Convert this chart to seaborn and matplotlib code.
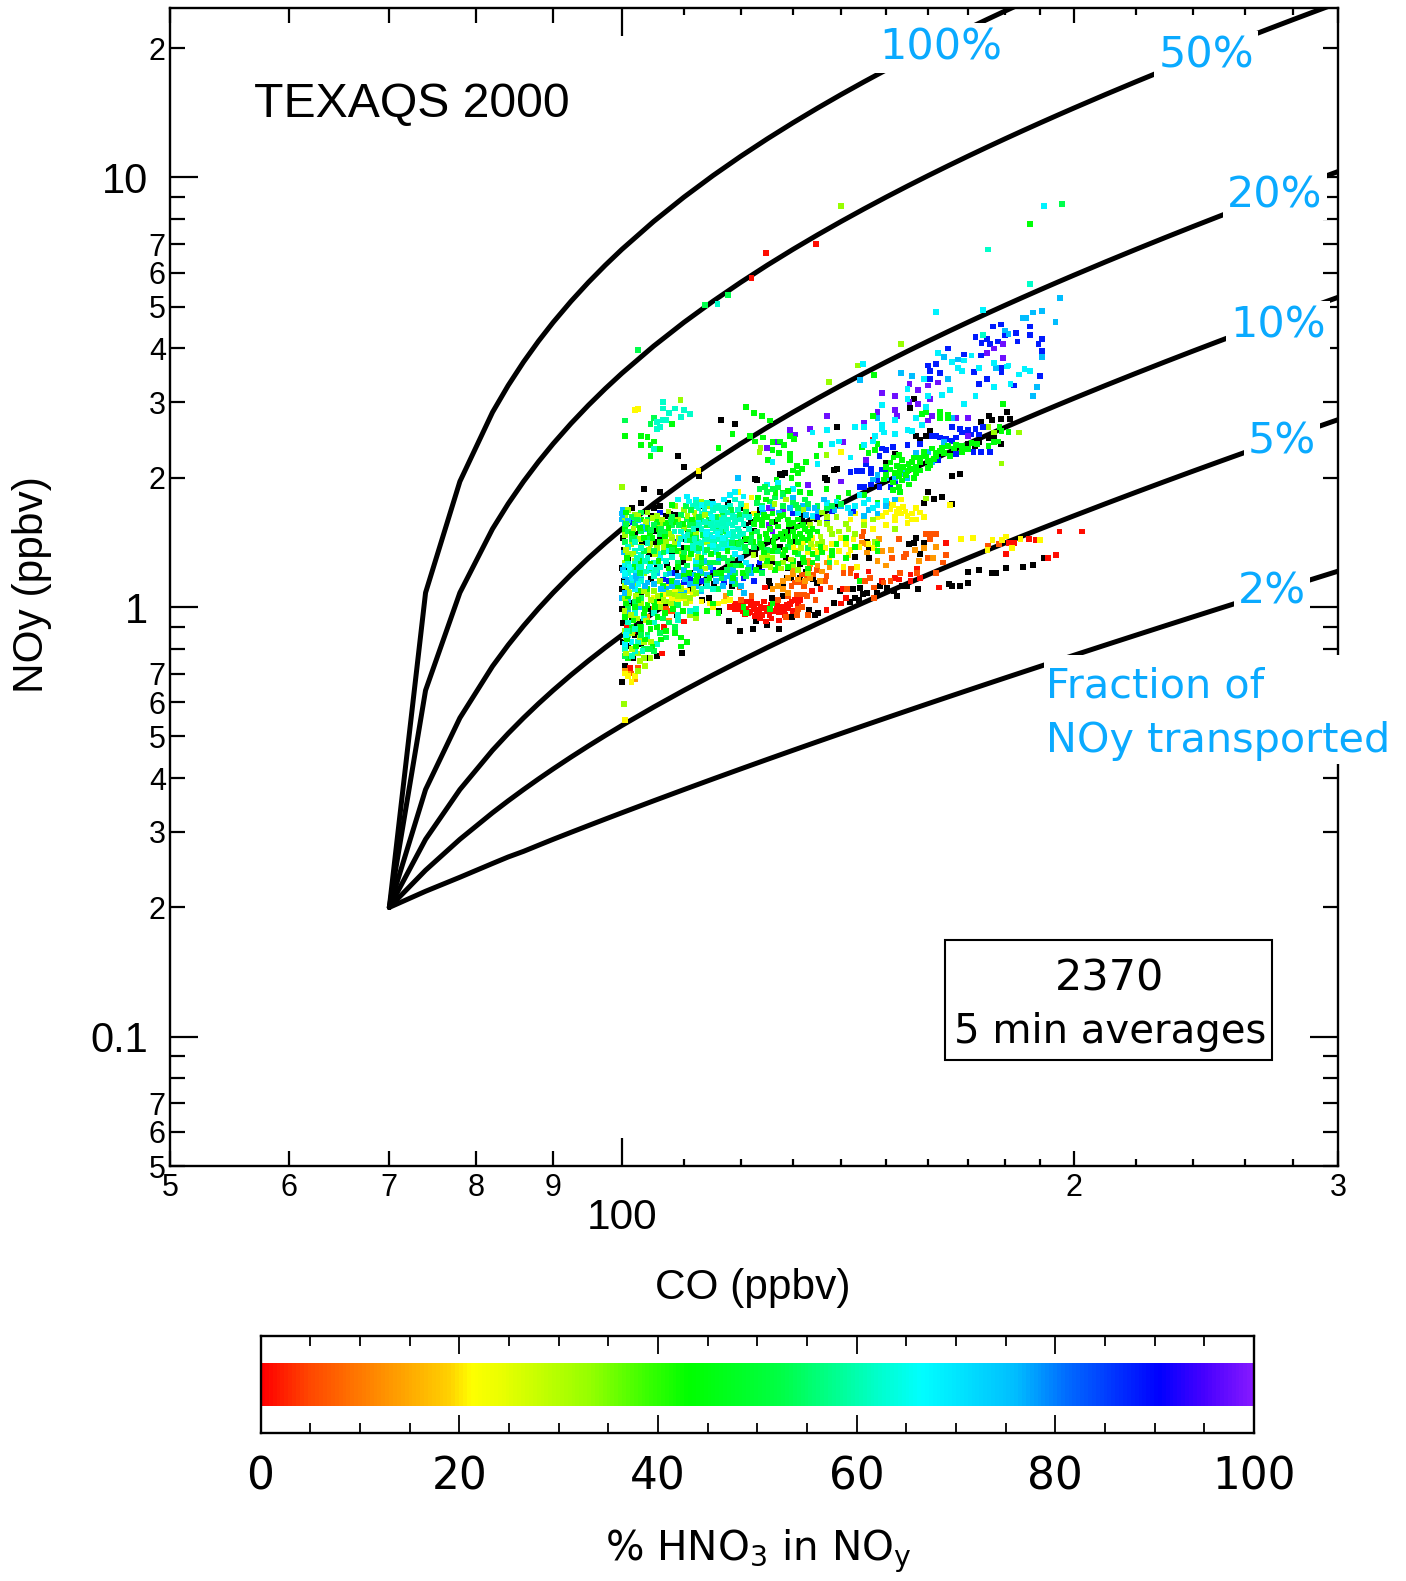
import numpy as np
import pandas as pd
import matplotlib
matplotlib.use("Agg")
import matplotlib.pyplot as plt
import seaborn as sns
from matplotlib.colors import LinearSegmentedColormap
from matplotlib.patches import Rectangle
from matplotlib.ticker import FixedLocator, FixedFormatter

# ---------- mixing curves (CO, NOy)
CURVE_CO = [70,74,78,82,84,86,88,90,92.5,95,97.5,100,105,110,115,120,125,130,135,140,145,150,155,160,165,170,175,180,185,190,195,200,210,220,230,240,250,260,270,280,290,300]
CURVE_100 = [.2,1.08,1.96,2.84,3.28,3.72,4.16,4.6,5.15,5.7,6.25,6.8,7.9,9,10.1,11.2,12.3,13.4,14.5,15.6,16.7,17.8,18.9,20,21.1,22.2,23.3,24.4,25.5,26.6,27.7,28.8,31,33.2,35.4,37.6,39.8,42,44.2,46.4,48.6,50.8]
CURVE_50 = [.2,.64,1.08,1.52,1.74,1.96,2.18,2.4,2.675,2.95,3.225,3.5,4.05,4.6,5.15,5.7,6.25,6.8,7.35,7.9,8.45,9,9.55,10.1,10.65,11.2,11.75,12.3,12.85,13.4,13.95,14.5,15.6,16.7,17.8,18.9,20,21.1,22.2,23.3,24.4,25.5]
CURVE_20 = [.2,.376,.552,.728,.816,.904,.992,1.08,1.19,1.3,1.41,1.52,1.74,1.96,2.18,2.4,2.62,2.84,3.06,3.28,3.5,3.72,3.94,4.16,4.38,4.6,4.82,5.04,5.26,5.48,5.7,5.92,6.36,6.8,7.24,7.68,8.12,8.56,9,9.44,9.88,10.32]
CURVE_10 = [.2,.288,.376,.464,.508,.552,.596,.64,.695,.75,.805,.86,.97,1.08,1.19,1.3,1.41,1.52,1.63,1.74,1.85,1.96,2.07,2.18,2.29,2.4,2.51,2.62,2.73,2.84,2.95,3.06,3.28,3.5,3.72,3.94,4.16,4.38,4.6,4.82,5.04,5.26]
CURVE_5 = [.2,.244,.288,.332,.354,.376,.398,.42,.4475,.475,.5025,.53,.585,.64,.695,.75,.805,.86,.915,.97,1.025,1.08,1.135,1.19,1.245,1.3,1.355,1.41,1.465,1.52,1.575,1.63,1.74,1.85,1.96,2.07,2.18,2.29,2.4,2.51,2.62,2.73]
CURVE_2 = [.2,.218,.235,.253,.262,.27,.279,.288,.299,.31,.321,.332,.354,.376,.398,.42,.442,.464,.486,.508,.53,.552,.574,.596,.618,.64,.662,.684,.706,.728,.75,.772,.816,.86,.904,.948,.992,1.036,1.08,1.124,1.168,1.212]

BLACK = [(116.5,2.73),(119,2.67),(109,2.25),(110,2.12),(103.5,1.88),(106,1.85),(139,2.63),(155.5,2.9),(175.5,2.78),(176.5,2.72),(179,2.74),(180.5,2.84),(181.5,2.74),(173.5,2.7),(174,2.62),(175.5,2.48),(177,2.5),(179,2.4),(170,2.4),(173,2.42),(172,2.37),(166,2.02),(168,2.04),(160.5,2.57),(157,2.5),(158,2.45),(159.5,2.5),(156.5,3.05),(139,2.1),(138.5,2.08),(136.5,2),(150,2.17),(152,2.27),(146.5,2.08),(127.5,2.04),(128.5,2.05),(122.7,1.99),(112.5,2.02),(160,1.85),(163.5,1.8),(161.5,1.78),(159,1.75),(166,1.74),
(101.5,1.7),(103,1.75),(105,1.7),(106,1.72),(107.7,1.65),(108.5,1.64),(107,1.63),(105.3,1.5),(106,1.45),(109.9,1.44),(110,1.37),(108,1.33),(100,1.23),(100.5,1.23),(100,1.1),(100,.99),(107,1.03),(106.8,.99),(108.8,.96),(109.6,.78),(104,.76),(105.5,.77),(101.8,.76),(100.5,.73),(100,.67),(100.2,.83),(119.8,.88),(117.8,.93),(122.2,.89),(127.2,.89),(125,.91),(122.8,.93),(116,.98),(114.3,1.05),(113,1.04),(111.5,1.11),(125.3,1.15),(125.5,1.12),(128,1.13),(128.8,1.17),(129.7,1.17),(129,1.23),(131.5,1.17),(126,1.05),(128,1.06),(133.2,.985),(134.5,.96),(135.2,.97),(129.8,.95),(138.5,1.02),(139.8,1.09),(142.5,1.1),(144,1.11),(143,1.05),(143.9,1.04),(142,1.03),(144.8,1.07),(145.7,1.08),(148,1.08),(148.7,1.12),(150.2,1.11),(151.7,1.09),(152.5,1.06),(153.7,1.12),(154.9,1.12),(157.5,1.1),(145.7,1.42),(146,1.37),(143,1.31),(146.2,1.3),(155.3,1.4),(156.5,1.41),(157,1.45),(159,1.41),(158,1.33),(170,1.21),(173,1.22),(176.4,1.2),(177.6,1.2),(180.2,1.23),(185,1.24),(187.9,1.25),(191,1.3),(165.3,1.13),(166,1.12),(168,1.12),(170,1.14),(135,1.6),(134,1.62),(132,1.65),(123,1.98),(127.8,2.03),(136.9,1.98),(121.5,1.64),(122.7,1.33),(121.7,1.34),(122.4,1.5),(121,1.55),(125,1.42),(104.5,1.63),(104.8,1.5),(101,1.3),(103,1.08),(104.5,1.16),(101.5,.94),(105,1.42),
(100.2,1.45),(100.4,1.36),(100.3,1.15),(100.2,.92),(102,1.48),(103.2,1.42),(104.3,1.33),(105.6,1.23),(107.2,1.25),(108.6,1.22),(109.8,1.27),(111,1.2),(112.4,1.17),(113.8,1.14),(115.2,1.13),(116.8,1.22),(118.4,1.12),(119.6,1.28),(120.8,1.43),(122,1.58),(123.4,1.24),(124.6,1.36),(126,1.27),(127.4,1.38),(128.6,1.3),(130,1.42),(131.4,1.26),(132.6,1.21),(134,1.16),(135,1.14),(110.6,1.48),(112,1.52),(113.4,1.72),(114.8,1.76),(117.6,1.75),(120.6,1.7),(123.6,1.68),(126.4,1.58),(129.2,1.52),(131.8,1.6),(133.4,1.55),(101.4,1.02),(102.8,.92),(104.2,.99),(105.8,1.05),(108,1.02),(101,.81),(103,.82),(102,.86)]
RED = [(118.9,.99),(119.5,1.01),(120.4,1.02),(121,.99),(121.7,.975),(122.5,.99),(121.4,.97),(123,.97),(124,.96),(123.7,1),(124.4,1.03),(125.6,1.01),(126.2,.98),(127.2,.975),(127.8,1),(128.8,1.01),(129.7,1.03),(130.4,1.04),(129.1,.995),(122.4,1.01),(121,1.03),(125,.98),(126.9,1.02),(122,1.04),(120.4,.98),(119.8,.99),(118,1),(124.7,.925),(127.2,.93),(136.9,.985),(140,1.02),(141,1.05),(124.6,1.11),(131.5,1.04),(162.6,1.11),(158,1.17),(155.7,1.19),(155.7,1.15),(152.1,1.17),(152.9,1.16),(157.3,1.23),(146,1.21),(140.4,1.1),(135.6,1.1),(133.9,1.09),(143.3,1.18),(149,1.15),(164.5,1.41),(180.3,1.33),(192.3,1.3),(194.7,1.32),(195.7,1.5),(202.5,1.5),(186.7,1.44),(188.6,1.43),(181,1.41),(182.4,1.41),(106.4,.78),(106.7,.9),(101.3,.72),(110,.925),
(122,5.83),(124.8,6.67),(134.7,7),(147,2.45),(120.8,.965),(122.6,.955),(123.4,.985),(124.6,.995),(125.4,.96),(126.8,.99),(128.2,.985),(129.4,1.015),(131,1.02),(120,1.0),(121.8,1.01),(123,1.02),(123.6,.94),(125.8,.94),(128.4,.96),(130,.98),(119,1.02),(101.8,.88),(100.8,.9)]
ORANGE_RED = [(131.5,1.07),(130.8,1.07),(132.2,1.07),(131.8,1.19),(132.8,1.18),(134.2,1.19),(131.5,1.14),(130.4,1.14),(132.2,1.12),(129.7,1.12),(134.9,1.22),(133.2,1.23),(132.8,1.06),(134.6,1.04),(133,.96),(130.8,.96),(128.7,.95),(131.8,1),(136.9,1.18),(136.5,1.15),(137.7,1.11),(141.2,1.1),(142.1,1.23),(142,1.2),(140.5,1.2),(144.2,1.15),(145.3,1.15),(146.4,1.17),(147.3,1.11),(147.3,1.05),(149.4,1.14),(151,1.15),(153.3,1.2),(144.9,1.5),(144.5,1.46),(153,1.44),(151.4,1.3),(154.6,1.33),(154.1,1.31),(159.9,1.3),(164.5,1.32),(163.6,1.27),(160.5,1.44),(159.5,1.48),(162,1.48),(160.9,1.48),(157.3,1.2),(162,1.2),(175.4,1.39),(178.4,1.4),(148,1.62),(110.8,1.03),(107.7,.98),(107,.99),(108,.98),(102.5,.72),(101.5,.7),(119.8,1.11),(120,1.04),(122,1.06),(127,1.04),(129,1.06),(131,.99)]
ORANGE = [(144.5,1.41),(145.7,1.4),(145.7,1.34),(151.2,1.36),(156.8,1.36),(158.9,1.37),(157.7,1.28),(161.2,1.3),(162,1.38),(148.3,1.44),(149,1.35),(150.2,1.74),(117.3,1.06),(100.5,.71),(101,.7),(102,.68),(104,.95),(105,.99),(107.5,.93),(133,1.28),(130,1.22),(129,1.17),(127,1.12),(126,1.1),(128,1.1),(129,1.08),(133.5,1.26),(135,1.25),(136,1.21),(137.5,1.24),(148,1.28),(150,1.25),(131,1.16),(132.5,1.15),(130,1.19),(128,1.15),(133.5,1.17),(135.5,1.15),(137,1.27)]
YELLOW = [(168.3,1.44),(171.4,1.45),(175.2,1.36),(176.6,1.43),(179.1,1.43),(180.3,1.46),(182,1.37),(184.3,1.44),(190,1.43),(147.3,1.37),(141.6,1.32),(143.5,1.24),(140.5,1.24),(142.7,1.44),(100.5,.7),(101,.69),(101.5,.67),(102,.69),(100.5,.545),(113,1.03),(114.5,1.02),(116,1.02),(117,1.03),(115,1),(118,1.04),(128,1.33),(130,1.38),(131,1.35),(133,1.34),(135,1.35),(132,1.42),(134,1.45),(136,1.42),(137.5,1.3),(139,1.27),(140,1.45),(141,1.4),(142,1.36),(144,1.38),(146,1.4),(122,1.8),(119.5,1.85),(121,1.72),(122.5,1.65),(143,1.65),(112.5,2.07),(151.5,1.73),(153,1.69),(153.5,1.65),(154.5,1.67),(156,1.6),(157,1.6),(151,1.69),(150,1.66),(149,1.63),(156,1.65),(159,1.62),(153.5,1.78),(157,1.7),(140,2.3),(165.5,1.73),(148,1.62),(145,1.58),(142,1.6),(147,1.52),(150,1.55),(152,1.59),(155,1.57),(107,1.07),(108,1.05),(109,1.03),(110,1.05),(111,1.03),(106.5,1.09),(108.5,1.1),(110.5,1.09),(102,2.87),(102.5,2.89),
(135,1.32),(136.5,1.37),(138,1.4),(139.5,1.35),(134,1.38),(152,1.62),(154,1.71),(155,1.63),(158,1.66),(152.5,1.67),(105,1.05),(106,1.02),(107.5,1.12),(109.5,1.12),(111.5,1.07)]
LIME = [(101,1.68),(100.5,1.62),(102,1.64),(104,1.66),(105.5,1.63),(106,1.56),(100.5,1.47),(101.5,1.4),(103,1.38),(104.5,1.4),(105.5,1.37),(107,1.42),(108,1.45),(110,1.53),(112,1.48),(114,1.42),(101,1.33),(102,1.28),(100.5,1.27),(103.5,1.2),(106,1.15),(107.5,1.08),(108.5,1.07),(110,1.06),(111,1.05),(112,1.08),(109.5,1.1),(104,1.07),(105,1.09),(102,1.12),(100.5,1.05),(101,1.1),(103,1.02),(106,1),(107,1.03),(100.5,.88),(102.5,.78),(103.5,.76),(104.5,.76),(101.5,.83),(102.5,.71),(100.3,.595),(111,.96),(112,.94),(126,1.3),(128,1.27),(130,1.25),(124.5,1.25),(131,1.22),(125,1.32),(133,1.2),(136,1.42),(138,1.48),(137,1.56),(139,1.62),(141,1.56),(135,1.4),(143,1.48),(134,1.62),(136,1.66),(132,1.68),(145,1.55),(147,1.6),(112,1.62),(110,1.68),(108.5,1.72),(113,1.76),(114,1.72),(116,1.62),(140,8.58),(153.5,4.09),(143.6,3.65),(137.4,3.34),(109.4,3.03),(123.7,2.35),(123.5,2.3),(136.9,2.26),(175.5,2.62),(177,2.55),(184,2.55),(179,2.16),(100,1.9),(147.5,1.42),(152,1.52),(159.5,1.79)]
GREEN = [(100.5,1.52),(102,1.56),(103,1.6),(104,1.53),(105.5,1.58),(107,1.57),(106,1.42),(107.5,1.38),(109,1.35),(110.5,1.37),(112,1.38),(111,1.47),(123,1.63),(124,1.6),(125,1.62),(126,1.65),(127,1.6),(128,1.64),(129,1.6),(130,1.57),(131,1.6),(132,1.55),(124,1.55),(125.5,1.52),(127,1.54),(128.5,1.5),(130,1.5),(131.5,1.48),(133,1.5),(122.5,1.56),(122,1.48),(123.5,1.46),(125,1.44),(126.5,1.46),(128,1.44),(129.5,1.42),(131,1.42),(133,1.43),(124,1.38),(126,1.35),(128,1.32),(130,1.28),(132,1.3),(127,1.26),(125,1.28),(129,1.24),(126.5,1.22),(133,1.23),(134,1.27),(136,1.34),(138,1.35),(120,1.25),(118,1.25),(115.5,1.2),(113,1.24),(112,1.15),(110,1.18),(109,1.12),(108,1.15),(106.5,1.12),(104,1.1),(102.5,1.09),(101,1.06),(104,1.01),(105,1.03),(106,1.06),(102,1),(103.5,.96),(100.5,.95),(101.5,.9),(103,.88),(104.5,.89),(105.5,.9),(107,.88),(108.5,.87),(109.5,.85),(109.5,.81),(110.5,.83),(112,.97),(114,.98),(116,.97),(115,1.02),(125.5,.99),(126,1.02),(120.5,1),(121,.97),(138,1.32),(141,1.3),(139,1.4),(143,1.38),(141,1.45),(148,1.4),(148,1.35),(144,1.15),(101,.76),
(187,7.8),(147.2,3.47),(179.5,2.97),(178.5,2.62),(179,2.57),(177,2.42),(178,2.43),(175.5,2.37),(181,2.56),(121,2.92),(122.5,2.83),(124,2.78),(125.5,2.72),(118.5,2.53),(121.7,2.5),(122.7,2.43),(124.2,2.48),(126,2.42),(127.5,2.43),(129.4,2.5),(130.2,2.46),(128.3,2.38),(126,2.32),(127.3,2.28),(129.4,2.27),(125.2,2.2),(129.4,2.2),(132.7,2.18),(135.6,2.38),(134.8,2.25),(144.5,2.36),(146,2.28),(147.5,2.32),(148,2.4),(147,2.78),(163,2.85),(165,2.8),(158.5,2.82),(159.5,2.85),(163,2.75),(165,2.75),(108,2.67),(105,2.43),(103,2.5),(104,2.49),(103,2.38),(104.5,2.38),(106,2.33),(104.5,2.25),(116,2.35),(100.5,2.5),(108,1.73),(126.8,1.98),(129.7,2),(131,2.05),(130,2.08),(131.8,2.1),(130.8,2.13),(131,1.93),(128.1,1.84),(131.5,1.85),(133.5,1.84),(136.9,1.88),(139.4,1.8),(141.6,1.84),(145,1.82),(148,1.75),
(150,2.12),(151.7,2.23),(153.7,2.2),(155.2,2.15),(157,2.12),(159,2.3),(161,2.34),(163,2.31),(165,2.37),(167,2.38),(168.5,2.37),(170,2.33),(160,2.11),(158,2.08),(160.5,2.14),(165.5,2.25),(156.5,2.23),(152.5,2.13),(153.3,2.08),(155,2.07),(151,2.09),(150,2.03),(153.7,1.97),(155.3,1.93),(153,1.9),(151.5,1.87),(153.3,1.85),(162,2.24),(158,2.22)]
SPRING = [(108,1.62),(109.5,1.64),(110.5,1.6),(111,1.55),(112,1.57),(113,1.6),(114,1.55),(115.5,1.54),(117,1.54),(108,1.55),(107,1.5),(106,1.48),(104,1.45),(103,1.5),(102,1.55),(105,1.55),(104,1.6),(101.5,1.62),(103,1.66),(102,1.45),(100.5,1.42),(101,1.5),(120,1.42),(122,1.45),(123,1.5),(123.5,1.42),(122.5,1.38),(121,1.35),(120,1.3),(118.5,1.3),(117,1.3),(116,1.27),(114,1.27),(112,1.26),(110.5,1.25),(109,1.27),(117.5,1.22),(119,1.2),(121,1.18),(124,1.2),(123,1.75),(124,1.72),(125.5,1.76),(126.5,1.8),(125,1.85),(123.5,1.88),(127,1.9),(128,1.83),(130,1.75),(131,1.7),(133,1.74),(135,1.72),(137,1.7),(125,1.36),(127,1.35),(129,1.38),(131,1.33),(133,1.37),(135,1.3),(137.5,1.27),(116.5,1.17),(114,1.15),(113,1.2),(116,1.1),(119,1.13),(118,1.08),(108,1.02),(109,1.01),(106.5,.94),(107.5,.92),(108.5,.9),(103,.9),(104,.86),(106,.87),(107,.85),(103.5,.8),(105,.79),(101,1),(102,1.03),(103,1.05),(100.5,.77),(113.6,5.05),(117.7,5.33),(102.5,3.97),(196.5,8.68),(100.5,2.72),(105,2.75),(104.5,2.67)]
TEAL = [(111.5,1.72),(112.5,1.7),(113.5,1.69),(113,1.65),(114.5,1.65),(115,1.68),(116,1.72),(117,1.7),(118,1.72),(119,1.78),(120,1.74),(119.5,1.68),(118.5,1.64),(117,1.62),(116,1.6),(115,1.58),(117.5,1.57),(118.5,1.55),(119.5,1.6),(120.5,1.64),(121.5,1.62),(120.5,1.56),(119.5,1.52),(118.5,1.5),(117.5,1.47),(116.5,1.52),(115.5,1.5),(114.5,1.47),(113.5,1.44),(112.5,1.42),(111.5,1.4),(110.5,1.43),(109.5,1.5),(113,1.52),(116.5,1.42),(117.5,1.42),(118.5,1.44),(119.5,1.46),(120.5,1.48),(121.5,1.52),(114.5,1.38),(113.5,1.34),(112.5,1.33),(111.5,1.36),(115.5,1.34),(116.5,1.37),(118,1.38),(119,1.38),(120,1.37),(106,1.33),(107,1.28),(108,1.31),(105,1.27),(104,1.3),(103,1.32),(102,1.35),(101,1.38),(102,1.26),(103,1.24),(104.5,1.22),(106,1.24),(101,1.2),(100.5,1.14),(101.5,1.13),(103,1.15),(105,1.18),(107,1.19),(102,.97),(103.5,.94),(101,.92),(105,.92),(101,.86),(102.5,.83),(104,.85),(105.5,.82),(100.5,.8),(102,.79),(109,.96),(111,.98),(109,.93),(105,.97),(112,.99),(113,1.1),(114,1.12),(115,1.1),(115.8,5.08),(175.4,6.8),(187,5.65),(174,4.3),
(106.5,3),(106.5,2.9),(108.5,2.9),(110,2.87),(111,2.82),(109.5,2.77),(107.5,2.83),(106.5,2.73),(105.5,2.7),(107,2.73),(105.5,2.6),(106,2.62),(105,2.33)]
CYAN = [(100.5,1.25),(101.5,1.17),(103,1.19),(102,1.22),(100.5,1.19),(102,1.1),(106,1.3),(107,1.35),(109,1.4),(110,1.46),(112,1.28),(113,1.37),(115,1.45),(116,1.47),(117,1.37),(118,1.4),(115,1.74),(117,1.78),(118,1.82),(112,1.78),(110.5,1.81),(119,1.85),(120.5,1.81),(119,1.33),(121,1.27),(101.5,.83),(100.5,.82),(124,1.7),(125,1.93),(127,1.95),(130,1.88),(131,1.65),(134,1.63),(137,1.75),(139,1.76),(141.5,1.7),(143,1.72),(145,1.75),(147,1.7),(144,1.82),(146,1.78),(150,1.77),(148,1.73),(112.5,1.6),(114,1.5),
(191,8.58),(162,4.86),(174,4.92),(144.8,3.68),(169,3.75),(171,3.85),(173,3.6),(177,3.7),(181,3.65),(180.5,3.63),(184,3.48),(185.5,3.58),(187,3.55),(177,3.25),(181.5,3.3),(172,3.1),(165.5,3.2),(163.5,3.12),(169,2.97),(167.5,3.6),(166,3.72),(162.5,3.9),(168.5,3.55),(159,3.4),(155,3.22),(155,3.05),(160,3.1),(159.5,2.92),(157,2.75),(158.5,2.65),(152,2.73),(149,2.95),(149,2.65),(149,2.6),(149.5,2.55),(152,2.53),(155,2.58),(156,2.57),(147.5,2.5),(147,2.43),(145,2.38),(143,2.63),(145,2.63),(134,2.55),(137,2.58),(138,2.4),(142,2.23),(135,2.15),(126,2.18),(139.5,2.43)]
AZURE = [(100,1.6),(100,1.65),(100.5,1.55),(102,1.58),(104,1.56),(103.5,1.52),(100.3,1.34),(100.5,1.18),(101,1.16),(102,1.15),(103,1.17),(104,1.14),(100,1.05),(101,1.04),(102.5,1.02),(105.5,1.2),(107,1.1),(108,1.12),(109,1.07),(110,1.08),(111,1.13),(112,1.12),(113,1.09),(114.5,1.24),(115.5,1.19),(117,1.17),(118,1.18),(119,1.16),(120,1.12),(121.5,1.24),(112,1.23),(110,1.22),(109,1.18),(128,1.81),(130,1.8),(132,1.72),(140,1.72),(142,1.65),(145,1.63),(146,1.68),(135,1.67),(137,1.62),(133,1.7),(126,1.72),(148,1.65),(150,1.72),(152,1.78),(147,1.98),(148,2.03),(150,2),(152,2),(154,2.05),(155,2),(157,2.28),(159,2.25),(160,2.3),(161,2.17),(164,2.42),(101,.98),(103,1),(119.5,2),
(195.9,5.25),(190.6,4.89),(194.5,4.6),(144.1,3.38),(148,2.75),(166,2.75),(186,4.7),(188,4.85),(185,4.7),(180,4.4),(164,3.82),(190.6,3.82),(181,4.32),(177.5,3.6),(153.5,3.5),(156,3.45),(165,3.4),(188,3.1),(189,3.25),(167.5,3.77)]
BLUE = [(106,1.66),(101.5,1.58),(108,1.2),(107.5,1.15),(106.5,1.16),(110,1.14),(111,1.17),(113,1.15),(115,1.22),(117,1.14),(119,1.2),(122,1.24),(124,1.21),(122.5,1.15),(123.5,1.27),(130,1.65),(135,1.62),(100.5,1.06),(101,.98),(109,1.42),(120.5,1.17),
(172,4.25),(176.8,4.5),(178.8,4.55),(175,4.2),(176,4.1),(178,4.15),(173.6,4.12),(180,4.3),(183,4.35),(183.5,4.15),(187,4.3),(187,4.5),(189.5,4.1),(190.6,4.2),(190.6,3.95),(179,3.6),(179,3.52),(171.6,3.52),(173,3.3),(175,3.4),(182.5,3.28),(190,3.45),(165,4),(167.5,3.77),(169,3.87),(173.5,3.85),(160,3.65),(162,3.68),(163,3.5),(160.5,3.55),(160.5,3.4),
(162,2.5),(163,2.48),(164.5,2.46),(167,2.48),(168.5,2.55),(170,2.58),(172,2.6),(174,2.63),(166,2.62),(168,2.6),(164,2.44),(166,2.44),(171,2.52),(173,2.52),(171.5,2.3),(173.5,2.3),(176,2.3),(167,2.27),(162.5,2.2),(161,2.5),(158,2.4),(155,2.38),(151.5,2.36),(149,2.34),(150,2.32),(148.5,2.25),(145.5,2.15),(146.5,2.1),(142,2.06),(143.5,2.07),(149,2.09),(146.5,2.05),(150,2.08),(144.5,2.07),(144,1.9),(145,1.9),(146.5,1.93),(148.5,1.9),(151,1.9),(148,1.97),(152,1.95),(138,1.67),(142.5,1.67),(135,1.62),(137,1.6)]
VIOLET = [(125.3,1.7),(126,1.7),(128,1.67),(125.3,1.55),(126,1.5),(175,3.9),(179.5,4.1),(177,4),(179.5,3.8),(162.5,3.33),(160,3.28),(157.5,3.2),(152,3.1),(155.5,3.3),(149,3.15),(155.5,3),(157.5,2.97),(148,2.85),(152,2.88),(152.5,2.78),(160.5,3.05),(137,2.78),(145,2.68),(129.5,2.58),(130.5,2.52),(133.5,2.6),(127,2.42),(125,2.35),(140.5,2.42),(160,2.72),(161,2.78),(170,2.76),(167,2.75),(133,1.92),(140,1.96),(145.5,2.2),(170,2.5)]

# second reading of the crowded core, drawn over the first
CORE_AZURE = [(100.1,1.68),(100.1,1.64),(101,1.59),(102.6,1.59),(103.2,1.54),(100.2,1.22),(100.8,1.14),(101.6,1.12),(100.4,1.08),(102.2,1.18),(103.6,1.12),(105,1.13),(106.2,1.1),(107.6,1.2),(108.8,1.14),(110.2,1.16),(111.6,1.19),(112.8,1.21),(114,1.19),(115.6,1.15),(116.8,1.12),(118.4,1.15),(113.4,1.28),(116,1.3),(118.6,1.22),(120.6,1.08),(122,1.2),(120,1.3),(124.2,1.66),(127.2,1.66),(129.4,1.7),(132.6,1.64),(134.4,1.7),(136.4,1.78),(138.6,1.68)]
CORE_LIME = [(100.8,1.58),(101.8,1.52),(102.6,1.63),(103.8,1.58),(104.8,1.61),(106.4,1.6),(107.4,1.67),(109,1.6),(110.6,1.63),(111.8,1.66),(113.6,1.64),(107.8,1.48),(109.2,1.45),(100.6,1.36),(101.8,1.33),(102.8,1.44),(104.2,1.36),(105.2,1.33),(106.6,1.38),(108.4,1.4),(109.6,1.33),(110.8,1.3),(112.4,1.31),(113.6,1.23),(100.4,1.12),(101.2,1.08),(102.2,1.06),(103.4,1.09),(104.6,1.04),(105.6,1.06),(106.6,1.04),(107.8,1.02),(109,1.06),(110.4,1.02),(111.6,1.1),(100.4,.98),(101.4,.96),(102.4,.94),(103.8,.93),(100.6,.85),(101.6,.87),(102.8,.85),(103.4,.83),(104.6,.83),(100.6,.78),(101.6,.8),(102.8,.75),(103.6,.73),(122.4,1.32),(124,1.3),(125.6,1.24),(127.6,1.23),(129.6,1.29),(131.6,1.37),(133.6,1.4),(135.6,1.46),(137.6,1.52),(139.6,1.5),(141.6,1.52),(133.4,1.55),(135.4,1.57),(137,1.62),(126.4,1.74),(128.6,1.78)]
CORE_GREEN = [(100.6,1.66),(101.6,1.48),(102.8,1.53),(104.4,1.49),(105.8,1.52),(107.4,1.53),(108.6,1.58),(109.8,1.56),(111.4,1.6),(103.4,1.45),(104.8,1.45),(106.8,1.46),(108.4,1.37),(109.8,1.31),(111.2,1.33),(113,1.3),(114.6,1.33),(116,1.32),(117.6,1.35),(119.2,1.41),(100.8,1.3),(101.8,1.24),(103,1.28),(104.4,1.26),(105.8,1.28),(107.4,1.23),(109,1.24),(110.8,1.2),(112.2,1.18),(114.4,1.17),(116.4,1.2),(118.6,1.17),(120.4,1.2),(122.8,1.22),(100.6,1.02),(102.6,1.04),(103.6,.99),(105.2,1.0),(106.8,.97),(108.2,.99),(109.8,.98),(101.8,.93),(102.8,.9),(104.2,.92),(105.6,.95),(100.8,.84),(102.2,.81),(103.6,.84),(104.8,.81),(106.2,.84),(121,1.44),(122.4,1.42),(123.8,1.4),(124.8,1.48),(126.2,1.42),(127.6,1.48),(129,1.46),(130.4,1.46),(131.8,1.45),(133.4,1.47),(135,1.5),(122.8,1.6),(124.4,1.64),(125.8,1.58),(127.4,1.63),(129.2,1.56),(130.8,1.54),(132.4,1.52),(134,1.52),(124.4,1.34),(126.4,1.38),(128.4,1.36),(130.4,1.34),(132.2,1.27),(134,1.33),(135.6,1.38),(123.2,1.8),(124.8,1.78),(126.6,1.84),(129,1.86),
(156,2.18),(158,2.17),(160,2.19),(162,2.29),(164,2.28),(166.4,2.34),(168.5,2.3),(154,2.12),(155.6,2.1),(157,2.05),(152,2.05),(154.6,2.03),(153,2.02),(151.5,1.95),(149.5,1.98),(156.5,2),(151,2.17),(153,2.26),(159.5,2.24),(161.5,2.21),(163.5,2.35),(171,2.41),(172.5,2.4)]
CORE_SPRING = [(110.4,1.72),(111.2,1.68),(112.6,1.62),(114.2,1.6),(115.6,1.62),(116.8,1.66),(118.2,1.68),(119.8,1.64),(121,1.67),(114,1.36),(115.2,1.41),(116.2,1.46),(117.2,1.5),(118.4,1.41),(119.6,1.4),(120.8,1.38),(121.8,1.42),(112,1.45),(113.2,1.47),(111,1.43),(112.6,1.37),(110,1.34),(108,1.36),(106.6,1.34),(105,1.35),(103.4,1.35),(101.6,1.44),(100.6,1.56),(102.4,1.6),(104.6,1.51),(106.2,1.52),(107.8,1.6),(109.2,1.55),(110.8,1.5),(112,1.55),(117.6,1.28),(119.2,1.25),(121.4,1.22),(115,1.27),(113,1.27),(104.2,1.23),(102.8,1.2),(101.2,.88),(103,.86),(104.4,.8),(124.6,1.9),(126,1.88),(128,1.72),(130.6,1.73),(132.4,1.78),(138,1.72),(140,1.74)]
CORE_TEAL = [(112,1.75),(114,1.75),(115.6,1.7),(116.6,1.68),(117.6,1.66),(118.8,1.62),(120,1.6),(119,1.58),(117.8,1.6),(116.8,1.57),(115.8,1.55),(114.6,1.56),(113.6,1.58),(112.6,1.55),(111.6,1.52),(115,1.53),(116.2,1.5),(117.4,1.52),(118.6,1.48),(119.8,1.5),(114,1.44),(115,1.42),(116,1.44),(117.2,1.44),(118.4,1.47),(113,1.41),(111.8,1.44),(110.6,1.47),(109.4,1.44),(108.4,1.5),(115.6,1.38),(117,1.4),(102,1.42),(103,1.37),(104,1.41),(101,1.26),(102.4,1.3),(103.6,1.28),(101.4,1.22),(103.8,1.21),(105.4,1.22),(102,.89),(100.8,.88),(103.2,.79),(101.6,.77)]
CORE_CYAN = [(100.4,1.2),(101.2,1.24),(102.6,1.13),(104.4,1.24),(115.8,1.48),(116.8,1.45),(117.8,1.48),(115,1.39),(113.8,1.48),(114.8,1.62),(113,1.73),(110.8,1.76),(109,1.78),(100.6,.86)]

BANDS = [(RED, 1), (ORANGE_RED, 6), (ORANGE, 13), (YELLOW, 21), (BLUE, 88), (VIOLET, 98), (AZURE, 76),
         (LIME, 33), (GREEN, 44), (SPRING, 53), (TEAL, 62), (CYAN, 68),
         (CORE_LIME, 31), (CORE_AZURE, 76), (CORE_GREEN, 43), (CORE_SPRING, 52), (CORE_TEAL, 61), (CORE_CYAN, 66)]

# ---------- colour scale nodes
SCALE_PCT = [0, 4.6, 9.6, 18.9, 21, 24, 33, 38, 43, 52.4, 61.8, 66.5, 76, 81, 90.5, 95, 100]
SCALE_RGB = ["#ff0000", "#ff4600", "#ff7800", "#ffd200", "#ffff00", "#ebff00", "#96ff00", "#46ff00", "#00ff00",
             "#00ff46", "#00ffc8", "#00ffff", "#00beff", "#006eff", "#0000ff", "#4600ff", "#8719ff"]
SCALE_MAJOR = [0, 20, 40, 60, 80, 100]
SCALE_MINOR = [5, 10, 15, 25, 30, 35, 45, 50, 55, 65, 70, 75, 85, 90, 95]

CURVE_LABELS = [("100%", 941, 48), ("50%", 1206, 56), ("20%", 1275, 195),
                ("10%", 1278, 326), ("5%", 1282, 442), ("2%", 1272, 591)]

X_MINOR = [50, 60, 70, 80, 90, 110, 120, 130, 140, 150, 160, 170, 180, 190, 200, 220, 240, 260, 280, 300]
X_MINOR_LABELS = ["5", "6", "7", "8", "9", "", "", "", "", "", "", "", "", "", "2", "", "", "", "", "3"]
X_SHORT = [110, 120, 130, 140, 150, 160, 170, 180, 190, 220, 240, 260, 280]
Y_MAJOR = [0.1, 1, 10]
Y_MINOR = [.05, .06, .07, .08, .09, .2, .3, .4, .5, .6, .7, .8, .9, 2, 3, 4, 5, 6, 7, 8, 9, 20]
Y_MINOR_LABELS = ["5", "6", "7", "", "", "2", "3", "4", "5", "6", "7", "", "", "2", "3", "4", "5", "6", "7", "", "", "2"]

W, H = 1406, 1581
sns.set_theme(style="white")
ARIAL = ["Liberation Sans", "DejaVu Sans"]
VERDANA = ["DejaVu Sans"]
plt.rcParams["font.family"] = ARIAL
plt.rcParams["mathtext.fontset"] = "dejavusans"
BLUE_TXT = "#0aaaff"

def fx(x): return x / W
def fy(y): return 1 - y / H
def axes_rect(l, t, r, b): return [fx(l), fy(b), (r - l) / W, (b - t) / H]

fig = plt.figure(figsize=(W / 100, H / 100), dpi=100, facecolor="white")
ax = fig.add_axes(axes_rect(170, 8, 1338, 1166))
ax.set_xscale("log"); ax.set_yscale("log")
ax.set_xlim(50, 300); ax.set_ylim(0.05, 24.8)

for vals in (CURVE_100, CURVE_50, CURVE_20, CURVE_10, CURVE_5, CURVE_2):
    sns.lineplot(x=CURVE_CO, y=vals, ax=ax, color="black", lw=3.6, estimator=None, sort=False, legend=False, zorder=2)

cmap = LinearSegmentedColormap.from_list("hno3", [(p / 100, c) for p, c in zip(SCALE_PCT, SCALE_RGB)], N=256)
black = pd.DataFrame(BLACK, columns=["co", "noy"])
sns.scatterplot(data=black, x="co", y="noy", ax=ax, color="black", marker="s", s=17, linewidth=0, zorder=3, legend=False)
rows = [pd.DataFrame(b, columns=["co", "noy"]).assign(pct=p) for b, p in BANDS]
obs = pd.concat(rows, ignore_index=True)
sns.scatterplot(data=obs, x="co", y="noy", hue="pct", palette=cmap, hue_norm=(0, 100), ax=ax,
                marker="s", s=17, linewidth=0, zorder=3, legend=False)

ax.set_xlabel(""); ax.set_ylabel("")
ax.xaxis.set_major_locator(FixedLocator([100]))
ax.xaxis.set_major_formatter(FixedFormatter(["100"]))
ax.xaxis.set_minor_locator(FixedLocator(X_MINOR))
ax.xaxis.set_minor_formatter(FixedFormatter(X_MINOR_LABELS))
ax.yaxis.set_major_locator(FixedLocator(Y_MAJOR))
ax.yaxis.set_major_formatter(FixedFormatter(["0.1", "1", "10"]))
ax.yaxis.set_minor_locator(FixedLocator(Y_MINOR))
ax.yaxis.set_minor_formatter(FixedFormatter(Y_MINOR_LABELS))
ax.tick_params(which="both", direction="in", top=True, right=True, left=True, bottom=True, color="black", labelcolor="black")
ax.tick_params(which="major", length=20, width=1.6)
ax.tick_params(which="minor", length=10.5, width=1.6)
ax.tick_params(axis="x", which="major", labelsize=30.5, pad=23)
ax.tick_params(axis="x", which="minor", labelsize=22, pad=5)
ax.tick_params(axis="y", which="major", labelsize=30, pad=16)
ax.tick_params(axis="y", which="minor", labelsize=22, pad=3)
for s in ax.spines.values():
    s.set_linewidth(1.7); s.set_color("black"); s.set_visible(True)
fig.canvas.draw()
for tick, loc in zip(ax.xaxis.get_minor_ticks(), ax.xaxis.get_minorticklocs()):
    if round(loc) in X_SHORT:
        tick.tick1line.set_markersize(5)
        tick.tick2line.set_markersize(5)

fig.text(fx(254), fy(104), "TEXAQS 2000", fontsize=34.7, color="black", va="center", ha="left")
fig.text(fx(32), fy(585), "NOy (ppbv)", fontsize=30.5, color="black", rotation=90, va="center", ha="center")
fig.text(fx(753), fy(1288), "CO (ppbv)", fontsize=30.5, color="black", va="center", ha="center")

for s, x, y in CURVE_LABELS:
    fig.text(fx(x), fy(y), s, fontsize=31, color=BLUE_TXT, va="center", ha="center", family=VERDANA, zorder=5,
             bbox=dict(fc="white", ec="none", pad=3))
fig.add_artist(Rectangle((fx(1044), fy(764)), (1395 - 1044) / W, (764 - 655) / H, transform=fig.transFigure,
                         fc="white", ec="none", zorder=4))
fig.text(fx(1046), fy(687), "Fraction of", fontsize=29.8, color=BLUE_TXT, va="center", ha="left", family=VERDANA, zorder=5)
fig.text(fx(1046), fy(741), "NOy transported", fontsize=29.8, color=BLUE_TXT, va="center", ha="left", family=VERDANA, zorder=5)

fig.add_artist(Rectangle((fx(945), fy(1060)), (1272 - 945) / W, (1060 - 940) / H, transform=fig.transFigure,
                         fc="white", ec="black", lw=1.5, zorder=4))
fig.text(fx(1110), fy(978), "2370", fontsize=31, color="black", va="center", ha="center", family=VERDANA, zorder=5)
fig.text(fx(1110), fy(1032), "5 min averages", fontsize=29, color="black", va="center", ha="center", family=VERDANA, zorder=5)

# colour bar
cax = fig.add_axes(axes_rect(260.5, 1336, 1254, 1433))
cax.imshow(np.linspace(0, 100, 256)[None, :], extent=[0, 100, 0.278, 0.72], aspect="auto", cmap=cmap, vmin=0, vmax=100, interpolation="nearest")
cax.set_xlim(0, 100); cax.set_ylim(0, 1)
cax.set_yticks([])
cax.set_xticks(SCALE_MAJOR)
cax.set_xticklabels([str(v) for v in SCALE_MAJOR], family=VERDANA)
cax.set_xticks(SCALE_MINOR, minor=True)
cax.tick_params(which="both", direction="in", top=True, bottom=True, color="black", labelcolor="black")
cax.tick_params(which="major", length=13, width=1.3, labelsize=31.5, pad=16)
cax.tick_params(which="minor", length=7, width=1.3)
for s in cax.spines.values():
    s.set_linewidth(1.7); s.set_color("black"); s.set_visible(True)
fig.text(fx(758), fy(1551), "% HNO$_{3}$ in NO$_{\\mathrm{y}}$", fontsize=29.2, color="black", va="center", ha="center", family=VERDANA)

fig.savefig("out.png", dpi=100, facecolor="white")
